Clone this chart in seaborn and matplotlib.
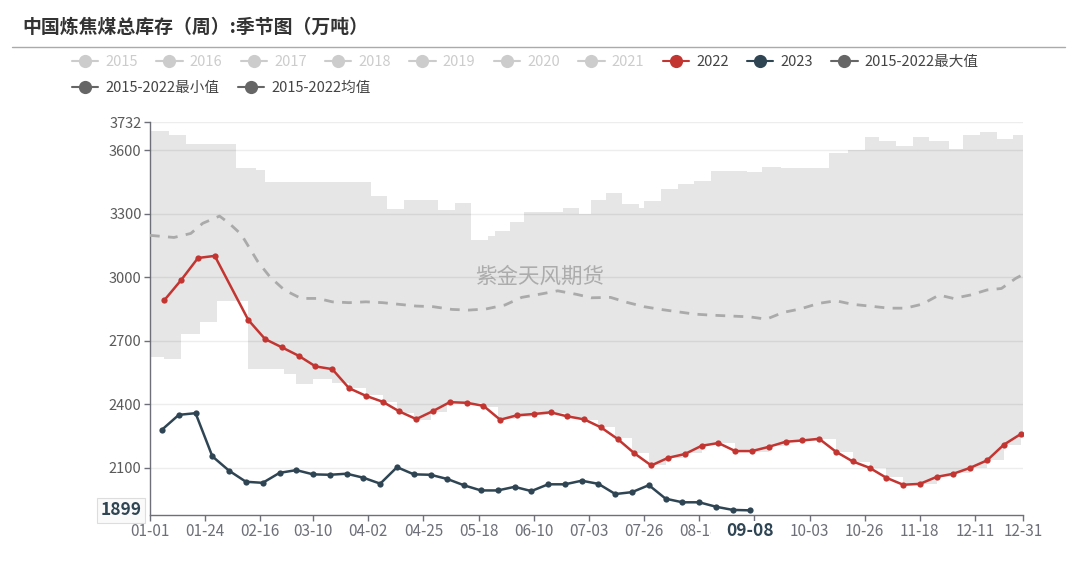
import numpy as np
import pandas as pd
import matplotlib
matplotlib.use("Agg")
import matplotlib.pyplot as plt
import seaborn as sns
from matplotlib.lines import Line2D
from matplotlib.patches import Rectangle

# ---------------- data ----------------
title = "中国炼焦煤总库存（周）:季节图（万吨）"
watermark = "紫金天风期货"

xtick_dates = ["01-01", "01-24", "02-16", "03-10", "04-02", "04-25", "05-18", "06-10",
               "07-03", "07-26", "08-18", "09-10", "10-03", "10-26", "11-18", "12-11", "12-31"]
hidden_tick = "09-10"  # sits under the axis-pointer label
ytick_values = [2100, 2400, 2700, 3000, 3300, 3600, 3732]
y_min, y_max = 1877, 3732

dates_2022 = ["01-07", "01-14", "01-21", "01-28"] + \
    [d.strftime("%m-%d") for d in pd.date_range("2022-02-11", "2022-12-30", freq="7D")]
val_2022 = [2892, 2987, 3091, 3101, 2798, 2708, 2669, 2629, 2579, 2566,
            2476, 2440, 2412, 2366, 2330, 2368, 2410, 2407, 2393, 2327,
            2348, 2354, 2362, 2343, 2329, 2291, 2236, 2168, 2111, 2147,
            2165, 2204, 2217, 2179, 2179, 2199, 2223, 2229, 2237, 2176,
            2130, 2100, 2053, 2020, 2024, 2057, 2072, 2100, 2135, 2209, 2259]

dates_2023 = [d.strftime("%m-%d") for d in pd.date_range("2023-01-06", "2023-09-08", freq="7D")]
val_2023 = [2280, 2350, 2358, 2154, 2086, 2034, 2029, 2076, 2089, 2069,
            2067, 2072, 2053, 2025, 2103, 2069, 2067, 2047, 2017, 1993,
            1993, 2010, 1990, 2022, 2022, 2039, 2024, 1976, 1985, 2018,
            1954, 1937, 1937, 1916, 1901, 1899]

# 2015-2022 max (step series, day of year)
max_days = [0, 8, 15, 36, 44, 48, 92, 99, 106, 120, 127, 134, 141, 144, 150, 156, 172, 179,
            184, 190, 197, 204, 206, 213, 220, 227, 234, 249, 255, 263, 283, 291, 298, 304,
            311, 318, 325, 333, 339, 346, 353, 360]
max_vals = [3691, 3672, 3629, 3514, 3505, 3448, 3385, 3322, 3363, 3317, 3349, 3176, 3196, 3220,
            3262, 3308, 3327, 3297, 3363, 3396, 3344, 3325, 3360, 3418, 3440, 3454, 3503, 3495,
            3522, 3516, 3585, 3599, 3664, 3645, 3620, 3661, 3645, 3604, 3672, 3686, 3653, 3672]

# 2015-2022 min (step series, day of year)
min_days = [0, 6, 13, 21, 28, 41, 49, 56, 61, 68, 76, 83, 90, 97, 103, 110, 117, 124, 131, 138,
            145, 152, 159, 166, 173, 180, 187, 194, 201, 208, 215, 223, 230, 237, 244, 258, 265,
            272, 279, 286, 293, 300, 307, 314, 321, 328, 335, 342, 349, 356, 363]
min_vals = [2624, 2612, 2730, 2790, 2889, 2566, 2568, 2541, 2494, 2519, 2499, 2478, 2443, 2412,
            2357, 2325, 2365, 2409, 2404, 2388, 2329, 2341, 2349, 2357, 2338, 2325, 2291, 2239,
            2168, 2113, 2147, 2168, 2207, 2218, 2176, 2203, 2223, 2228, 2236, 2176, 2128, 2100,
            2055, 2018, 2023, 2058, 2076, 2100, 2136, 2207, 2262]

# 2015-2022 mean
mean_days = [0, 10, 17, 22, 29, 33, 38, 45, 50, 56, 63, 70, 76, 83, 90, 97, 104, 111, 118, 126,
             133, 140, 148, 155, 163, 170, 178, 184, 192, 199, 206, 213, 220, 227, 234, 242, 250,
             257, 264, 271, 279, 286, 293, 300, 308, 315, 322, 329, 335, 342, 349, 355, 361, 363]
mean_vals = [3198, 3188, 3207, 3255, 3289, 3255, 3203, 3073, 3002, 2940, 2900, 2900, 2884, 2880,
             2884, 2880, 2872, 2864, 2861, 2848, 2845, 2850, 2869, 2905, 2921, 2936, 2919, 2903,
             2905, 2881, 2861, 2848, 2837, 2826, 2821, 2817, 2813, 2802, 2834, 2850, 2877, 2889,
             2872, 2864, 2854, 2854, 2873, 2916, 2900, 2916, 2940, 2947, 2995, 3007]

legend_row1 = ["2015", "2016", "2017", "2018", "2019", "2020", "2021", "2022", "2023", "2015-2022最大值"]
legend_row2 = ["2015-2022最小值", "2015-2022均值"]

pointer_date = "09-08"
pointer_value = 1899

# ---------------- helpers ----------------
def doy(mmdd, year=2022):
    return (pd.Timestamp(f"{year}-{mmdd}") - pd.Timestamp(f"{year}-01-01")).days

C22, C23, CGREY = "#c23531", "#2f4554", "#666666"

sns.set_theme(style="white")
plt.rcParams["font.family"] = ["Noto Sans CJK SC", "DejaVu Sans"]

fig = plt.figure(figsize=(10.8, 5.66), dpi=100)
ax = fig.add_axes([150 / 1080, 1 - 515 / 566, (1023 - 150) / 1080, (515 - 122.3) / 566])

# band between min and max
x_all = np.array(sorted(set(max_days) | set(min_days) | {364}))
up = np.array(max_vals)[np.searchsorted(max_days, x_all, side="right") - 1]
lo = np.array(min_vals)[np.searchsorted(min_days, x_all, side="right") - 1]
ax.fill_between(x_all, lo, up, step="post", color="#e6e6e6", lw=0, zorder=1)

df22 = pd.DataFrame({"day": [doy(d) for d in dates_2022], "v": val_2022})
df23 = pd.DataFrame({"day": [doy(d, 2023) for d in dates_2023], "v": val_2023})
dfm = pd.DataFrame({"day": mean_days, "v": mean_vals})

sns.lineplot(data=dfm, x="day", y="v", ax=ax, color="#aaaaaa", lw=2.0,
             dashes=False, zorder=3)
ax.lines[-1].set_dashes((3.5, 3))
sns.lineplot(data=df22, x="day", y="v", ax=ax, color=C22, lw=1.8, marker="o",
             markersize=4.5, markeredgewidth=0, zorder=4)
sns.lineplot(data=df23, x="day", y="v", ax=ax, color=C23, lw=1.8, marker="o",
             markersize=4.5, markeredgewidth=0, zorder=5)

ax.set_xlim(0, 364)
ax.set_ylim(y_min, y_max)
ax.set_xlabel("")
ax.set_ylabel("")
ax.set_xticks([doy(t) for t in xtick_dates])
ax.set_xticklabels(["" if t == hidden_tick else t for t in xtick_dates],
                   color="#6e7079", fontsize=11)
ax.set_yticks(ytick_values)
ax.set_yticklabels([str(v) for v in ytick_values], color="#5a5a5a", fontsize=10.5)
ax.tick_params(axis="x", length=4, width=1, color="#6e7079", pad=2, bottom=True)
ax.tick_params(axis="y", length=4, width=1, color="#6e7079", pad=2, left=True)
ax.set_axisbelow(False)
ax.yaxis.grid(True, color="#000000", alpha=0.07, lw=1)
ax.xaxis.grid(False)
for s in ["top", "right"]:
    ax.spines[s].set_visible(False)
for s in ["left", "bottom"]:
    ax.spines[s].set_color("#6e7079")
    ax.spines[s].set_linewidth(1)

# axis pointer labels (the date label hides part of the tick label beside it)
ax.add_patch(Rectangle((doy(pointer_date) - 16, -0.08), 29, 0.064, transform=ax.get_xaxis_transform(),
                       fc="white", ec="none", zorder=9, clip_on=False))
ax.annotate(pointer_date, xy=(doy(pointer_date), 0), xycoords=("data", "axes fraction"),
            xytext=(0, -11.5), textcoords="offset points", ha="center", va="center",
            fontsize=12.5, fontweight="bold", color=C23, zorder=10, annotation_clip=False)
ax.annotate(str(pointer_value), xy=(0, pointer_value), xycoords="data",
            xytext=(-6, 0), textcoords="offset points", ha="right", va="center",
            fontsize=12.5, fontweight="bold", color=C23, zorder=10, annotation_clip=False,
            bbox=dict(boxstyle="square,pad=0.2", fc="#fafafa", ec="#dddddd", lw=0.8))

# watermark
fig.text(540 / 1080, 1 - 277 / 566, watermark, ha="center", va="center",
         fontsize=15.5, color="#999999", alpha=0.75)

# title + separator
fig.text(22 / 1080, 1 - 27 / 566, title, ha="left", va="center", fontsize=13.6,
         fontweight="bold", color="#333333")
fig.add_artist(Line2D([12 / 1080, 1065 / 1080], [1 - 47 / 566] * 2, color="#aaaaaa", lw=1))

# legends
row1_colors = ["#cccccc"] * 7 + [C22, C23, CGREY]
row1_text = ["#cccccc"] * 7 + ["#444444"] * 3
h1 = [Line2D([0], [0], color=c, lw=1.5, marker="o", markersize=9.5, markeredgewidth=0)
      for c in row1_colors]
fig.legend(h1, legend_row1, loc="center left", bbox_to_anchor=(72 / 1080, 1 - 62 / 566),
           ncol=10, frameon=False, fontsize=10.5, handlelength=1.8, handletextpad=0.5,
           columnspacing=1.25, borderpad=0, borderaxespad=0, labelcolor=row1_text)
h2 = [Line2D([0], [0], color=CGREY, lw=1.5, marker="o", markersize=9.5, markeredgewidth=0)
      for _ in legend_row2]
fig.legend(h2, legend_row2, loc="center left", bbox_to_anchor=(72 / 1080, 1 - 88 / 566),
           ncol=2, frameon=False, fontsize=10.5, handlelength=1.8, handletextpad=0.5,
           columnspacing=1.25, borderpad=0, borderaxespad=0, labelcolor="#444444")

fig.savefig("out.png", dpi=100)
